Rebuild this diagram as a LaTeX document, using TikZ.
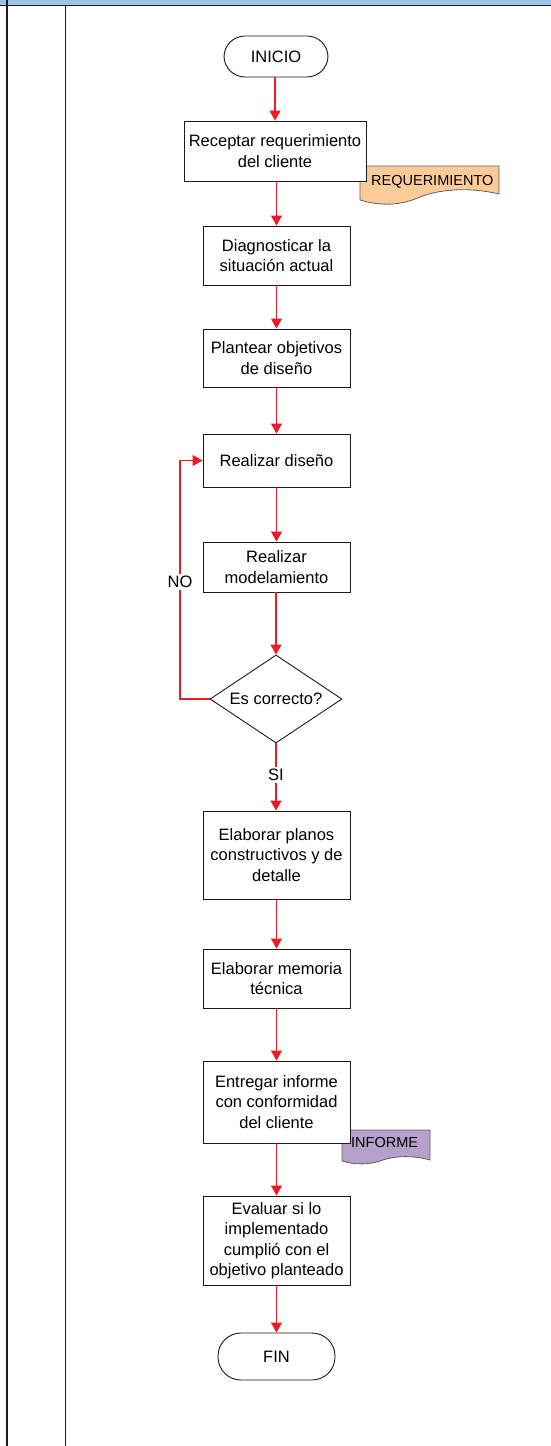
\documentclass[tikz,border=0pt]{standalone}
\usepackage{fontspec}
\setmainfont{Liberation Sans}
\usetikzlibrary{shapes.geometric,arrows.meta}
\definecolor{flowred}{HTML}{ED1C24}
\definecolor{bandblue}{HTML}{9DC3E6}
\definecolor{docpeach}{HTML}{FBCB9A}
\definecolor{docpurple}{HTML}{B4A0CA}
\definecolor{edge}{HTML}{1A1A1A}
\tikzset{
  every node/.style={font=\fontsize{16.5}{20.5}\selectfont, inner sep=0pt},
  procbox/.style={draw=edge, line width=0.9pt, fill=white, rectangle, align=center},
  termbox/.style={draw=edge, line width=0.9pt, fill=white, rectangle, rounded corners=21pt},
  decision/.style={draw=edge, line width=0.9pt, fill=white, diamond, shape aspect=1.5},
  flow/.style={draw=flowred, line width=1.1pt, -{Triangle[length=10pt,width=11pt]}},
  lane/.style={draw=edge, line width=1.6pt},
  doclabel/.style={font=\fontsize{14.5}{16}\selectfont}
}
\begin{document}
\begin{tikzpicture}[x=1pt,y=-1pt]
\useasboundingbox (0,0) rectangle (551,1446);
% header band and swimlane separators
\fill[bandblue] (0,0) rectangle (551,4.5);
\draw[lane] (0,5.5) -- (551,5.5);
\draw[lane] (7,0) -- (7,1446);
\draw[lane] (65.5,5.5) -- (65.5,1446);

% document symbols (behind the process boxes)
\filldraw[fill=docpeach, draw=edge!70, line width=0.8pt]
  (360,166) -- (499,166) -- (499,194)
  .. controls (470,187) and (440,189) .. (420,197)
  .. controls (400,206) and (380,206) .. (360,200) -- cycle;
\node[doclabel, anchor=west] (req) at (371,182) {REQUERIMIENTO};

\filldraw[fill=docpurple, draw=edge!70, line width=0.8pt]
  (342,1130) -- (430,1130) -- (430,1160)
  .. controls (412,1155) and (395,1156) .. (383,1160)
  .. controls (370,1165) and (355,1165) .. (342,1161) -- cycle;
\node[doclabel, anchor=west] (inf) at (351,1142) {INFORME};

% flowchart nodes
\node[termbox, minimum width=104pt, minimum height=41pt] (inicio) at (276,56.5) {INICIO};
\node[procbox, minimum width=182pt, minimum height=60pt] (r1) at (275,151) {Receptar requerimiento\\del cliente};
\node[procbox, minimum width=147pt, minimum height=59pt] (r2) at (276.5,255.5) {Diagnosticar la\\situación actual};
\node[procbox, minimum width=147pt, minimum height=58pt] (r3) at (276.5,358) {Plantear objetivos\\de diseño};
\node[procbox, minimum width=147pt, minimum height=53pt] (r4) at (276.5,460.5) {Realizar diseño};
\node[procbox, minimum width=147pt, minimum height=50pt] (r5) at (276.5,567) {Realizar\\modelamiento};
\node[decision, minimum width=132pt, minimum height=88pt] (dec) at (276,699) {Es correcto?};
\node[procbox, minimum width=147pt, minimum height=88pt] (r6) at (276.5,855) {Elaborar planos\\constructivos y de\\detalle};
\node[procbox, minimum width=147pt, minimum height=59pt] (r7) at (276.5,978.5) {Elaborar memoria\\técnica};
\node[procbox, minimum width=147pt, minimum height=82pt] (r8) at (276.5,1102) {Entregar informe\\con conformidad\\del cliente};
\node[procbox, minimum width=147pt, minimum height=89pt] (r9) at (276.5,1240.5) {Evaluar si lo\\implementado\\cumplió con el\\objetivo planteado};
\node[termbox, minimum width=117pt, minimum height=47pt, rounded corners=23pt] (fin) at (276.5,1356.5) {FIN};

% connectors
\draw[flow] (inicio.south -| r1.north) -- (r1.north);
\draw[flow] (r1.south -| r2.north) -- (r2.north);
\draw[flow] (r2) -- (r3);
\draw[flow] (r3) -- (r4);
\draw[flow] (r4) -- (r5);
\draw[flow] (r5.south -| dec.north) -- (dec.north);
\draw[flow] (dec.south) -- (dec.south |- r6.north);
\node[fill=white, inner sep=2pt] (si) at (276,775) {SI};
\draw[flow] (r6) -- (r7);
\draw[flow] (r7) -- (r8);
\draw[flow] (r8) -- (r9);
\draw[flow] (r9.south) -- (r9.south |- fin.north);
\coordinate (loopbot) at (180,699);
\coordinate (looptop) at (180,460.5);
\draw[flow] (dec.west) -- (loopbot) -- (looptop) -- (r4.west);
\node[fill=white, inner sep=2pt] (no) at (180,582) {NO};
\end{tikzpicture}
\end{document}
